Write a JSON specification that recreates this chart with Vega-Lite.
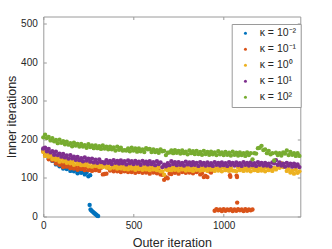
{
"$schema":"https://vega.github.io/schema/vega-lite/v6.json",
"width":257,"height":200,
"autosize":"none",
"padding":{"left":43.3,"top":16.5,"right":31.7,"bottom":32.5},
"background":"white",
"config":{"view":{"stroke":null},"font":"Liberation Sans",
"axis":{"grid":false,"domainColor":"#9a9a9a","domainWidth":1,"tickColor":"#9a9a9a","tickSize":-3,"labelFlush":false,"labelFont":"Liberation Sans","labelFontSize":10,"labelColor":"#262626","titleFont":"Liberation Sans","titleFontSize":12.5,"titleFontWeight":"normal","titleColor":"#262626"}},
"data":{"values":[
{"x":0,"a":174,"b":169,"c":167,"d":176,"e":205},
{"x":10,"a":162,"b":158,"c":157,"d":178,"e":212},
{"x":20,"a":162,"b":159,"c":164,"d":169,"e":203},
{"x":30,"a":150,"b":148,"c":155,"d":175,"e":206},
{"x":40,"a":155,"b":155,"c":158,"d":166,"e":197},
{"x":50,"a":144,"b":145,"c":149,"d":169,"e":203},
{"x":60,"a":145,"b":147,"c":155,"d":160,"e":195},
{"x":70,"a":135,"b":137,"c":147,"d":168,"e":198},
{"x":80,"a":140,"b":143,"c":150,"d":159,"e":190},
{"x":90,"a":130,"b":134,"c":142,"d":163,"e":199},
{"x":100,"a":133,"b":137,"c":151,"d":155,"e":191},
{"x":110,"a":124,"b":128,"c":143,"d":162,"e":195},
{"x":120,"a":132,"b":137,"c":147,"d":153,"e":187},
{"x":130,"a":123,"b":129,"c":139,"d":158,"e":194},
{"x":140,"a":127,"b":133,"c":146,"d":150,"e":186},
{"x":150,"a":118,"b":125,"c":138,"d":159,"e":190},
{"x":160,"a":125,"b":132,"c":142,"d":151,"e":182},
{"x":170,"a":117,"b":124,"c":134,"d":155,"e":191},
{"x":180,"a":120,"b":128,"c":144,"d":147,"e":184},
{"x":190,"a":112,"b":121,"c":136,"d":154,"e":188},
{"x":200,"a":121,"b":130,"c":141,"d":146,"e":181},
{"x":210,"a":113,"b":123,"c":133,"d":151,"e":188},
{"x":220,"a":117,"b":127,"c":140,"d":143,"e":181},
{"x":230,"a":109,"b":120,"c":133,"d":153,"e":185},
{"x":240,"a":114,"b":128,"c":137,"d":145,"e":178},
{"x":250,"a":104,"b":120,"c":130,"d":150,"e":187},
{"x":260,"a":107,"b":125,"c":139,"d":142,"e":180},
{"x":270,"b":118,"c":129,"d":150,"e":184},
{"x":280,"b":127,"c":138,"d":140,"e":177},
{"x":290,"b":120,"c":131,"d":147,"e":184},
{"x":300,"b":125,"c":135,"d":139,"e":177},
{"x":310,"b":118,"c":128,"d":148,"e":182},
{"x":320,"b":126,"c":135,"d":141,"e":175},
{"x":330,"b":109,"c":128,"d":141,"e":184},
{"x":340,"b":110,"c":131,"d":138,"e":176},
{"x":350,"b":111,"c":127,"d":146,"e":181},
{"x":360,"b":126,"c":132,"d":139,"e":174},
{"x":370,"b":119,"c":124,"d":144,"e":181},
{"x":380,"b":124,"c":134,"d":136,"e":174},
{"x":390,"b":117,"c":127,"d":146,"e":179},
{"x":400,"b":124,"c":131,"d":139,"e":171},
{"x":410,"b":117,"c":124,"d":144,"e":181},
{"x":420,"b":122,"c":132,"d":137,"e":173},
{"x":430,"b":115,"c":125,"d":145,"e":178},
{"x":440,"b":124,"c":131,"d":138,"e":171},
{"x":450,"b":117,"c":123,"d":143,"e":172},
{"x":460,"b":122,"c":129,"d":135,"e":171},
{"x":470,"b":115,"c":122,"d":145,"e":176},
{"x":480,"b":122,"c":131,"d":138,"e":169},
{"x":490,"b":115,"c":124,"d":143,"e":178},
{"x":500,"b":120,"c":129,"d":136,"e":171},
{"x":510,"b":113,"c":121,"d":144,"e":176},
{"x":520,"b":123,"c":130,"d":137,"e":168},
{"x":530,"b":115,"c":123,"d":142,"e":176},
{"x":540,"b":120,"c":128,"d":134,"e":169},
{"x":550,"b":113,"c":121,"d":144,"e":174},
{"x":560,"b":121,"c":129,"d":137,"e":167},
{"x":570,"b":114,"c":122,"d":142,"e":177},
{"x":580,"b":119,"c":127,"d":135,"e":174},
{"x":590,"b":111,"c":120,"d":143,"e":175},
{"x":600,"b":121,"c":129,"d":136,"e":167},
{"x":610,"b":114,"c":122,"d":141,"e":174},
{"x":620,"b":119,"c":127,"d":133,"e":167},
{"x":630,"b":112,"c":120,"d":143,"e":172},
{"x":640,"b":120,"c":128,"d":136,"e":165},
{"x":650,"b":109,"c":117,"d":140,"e":174},
{"x":660,"b":108,"c":117,"d":128,"e":169},
{"x":670,"b":95,"c":108,"d":134,"e":170},
{"x":680,"b":102,"c":122,"d":130,"e":159},
{"x":690,"b":99,"c":120,"d":138,"e":165},
{"x":700,"b":111,"c":127,"d":133,"e":166},
{"x":710,"b":110,"c":120,"d":143,"e":171},
{"x":720,"b":120,"c":128,"d":136,"e":164},
{"x":730,"b":113,"c":121,"d":141,"e":172},
{"x":740,"b":118,"c":126,"d":133,"e":165},
{"x":750,"b":111,"c":119,"d":141,"e":170},
{"x":760,"b":122,"c":129,"d":134,"e":163},
{"x":770,"b":115,"c":122,"d":139,"e":171},
{"x":780,"b":120,"c":127,"d":132,"e":164},
{"x":790,"b":113,"c":119,"d":142,"e":168},
{"x":800,"b":121,"c":127,"d":135,"e":161},
{"x":810,"b":114,"c":120,"d":140,"e":171},
{"x":820,"b":119,"c":125,"d":133,"e":164},
{"x":830,"b":112,"c":118,"d":141,"e":169},
{"x":840,"b":122,"c":128,"d":134,"e":162},
{"x":850,"b":115,"c":121,"d":139,"e":170},
{"x":860,"b":119,"c":126,"d":131,"e":162},
{"x":870,"b":109,"c":119,"d":141,"e":167},
{"x":880,"b":112,"c":127,"d":134,"e":160},
{"x":890,"b":102,"c":120,"d":139,"e":170},
{"x":900,"b":105,"c":125,"d":132,"e":162},
{"x":910,"b":102,"c":118,"d":140,"e":167},
{"x":920,"b":117,"c":128,"d":133,"e":160},
{"x":930,"b":114,"c":121,"d":138,"e":168},
{"x":940,"c":126,"d":131,"e":161},
{"x":950,"b":15,"c":118,"d":141,"e":166},
{"x":960,"b":19,"c":126,"d":134,"e":159},
{"x":970,"b":16,"c":119,"d":139,"e":169},
{"x":980,"b":18,"c":124,"d":132,"e":161},
{"x":990,"b":14,"c":117,"d":140,"e":166},
{"x":1000,"b":19,"c":127,"d":133,"e":159},
{"x":1010,"b":15,"c":120,"d":138,"e":167},
{"x":1020,"b":18,"c":125,"d":131,"e":160},
{"x":1030,"b":16,"c":118,"d":141,"e":165},
{"x":1040,"b":19,"c":126,"d":134,"e":158},
{"x":1050,"b":14,"c":119,"d":139,"e":168},
{"x":1060,"b":18,"c":119,"d":132,"e":160},
{"x":1070,"b":15,"c":117,"d":140,"e":165},
{"x":1080,"b":19,"c":127,"d":133,"e":158},
{"x":1090,"b":16,"c":120,"d":138,"e":166},
{"x":1100,"b":18,"c":125,"d":131,"e":159},
{"x":1110,"b":14,"c":118,"d":141,"e":164},
{"x":1120,"b":19,"c":126,"d":134,"e":157},
{"x":1130,"b":15,"c":119,"d":139,"e":166},
{"x":1140,"b":18,"c":124,"d":132,"e":159},
{"x":1150,"b":16,"c":117,"d":140,"e":164},
{"x":1160,"b":18,"c":127,"d":133,"e":148},
{"x":1170,"c":120,"d":138,"e":164},
{"x":1180,"c":125,"d":131,"e":163},
{"x":1190,"c":118,"d":141,"e":177},
{"x":1200,"c":126,"d":134,"e":178},
{"x":1210,"c":119,"d":139,"e":183},
{"x":1220,"c":124,"d":132,"e":172},
{"x":1230,"c":117,"d":139,"e":174},
{"x":1240,"c":127,"d":132,"e":164},
{"x":1250,"c":120,"d":137,"e":170},
{"x":1260,"c":125,"d":130,"e":161},
{"x":1270,"c":118,"d":140,"e":164},
{"x":1280,"c":126,"d":138,"e":145},
{"x":1290,"c":122,"d":146,"e":165},
{"x":1300,"c":130,"d":134,"e":159},
{"x":1310,"c":126,"d":140,"e":164},
{"x":1320,"c":138,"d":132,"e":158},
{"x":1330,"c":128,"d":137,"e":166},
{"x":1340,"c":129,"d":129,"e":163},
{"x":1350,"c":118,"d":139,"e":171},
{"x":1360,"c":123,"d":132,"e":159},
{"x":1370,"c":114,"d":137,"e":167},
{"x":1380,"c":119,"d":129,"e":160},
{"x":1390,"c":111,"d":137,"e":164},
{"x":1400,"c":121,"d":130,"e":157},
{"x":1410,"c":113,"d":135,"e":164},
{"x":1420,"c":117,"d":128,"e":157},
{"x":257,"a":30},{"x":262,"a":18},{"x":266,"a":16},{"x":270,"a":14},{"x":275,"a":12},{"x":280,"a":10},{"x":285,"a":8},{"x":290,"a":6},{"x":295,"a":4},{"x":300,"a":2},{"x":304,"a":1},
{"x":1035,"b":107},{"x":1037,"b":103},{"x":1072,"b":106},{"x":1074,"b":102},{"x":1075,"b":36}
]},
"transform":[{"fold":["a","b","c","d","e"],"as":["k","v"]},{"filter":"isValid(datum.v)"}],
"layer":[
{"mark":{"type":"point","filled":true,"size":19,"opacity":1,"strokeWidth":0},
"encoding":{
"x":{"field":"x","type":"quantitative","scale":{"domain":[0,1425],"nice":false,"zero":false},"axis":{"values":[0,500,1000],"format":"d","title":"Outer iteration","labelPadding":7,"titlePadding":6}},
"y":{"field":"v","type":"quantitative","scale":{"domain":[0,518],"nice":false},"axis":{"values":[0,100,200,300,400,500],"format":"d","title":"Inner iterations","labelPadding":9,"titlePadding":2}},
"color":{"field":"k","type":"nominal","scale":{"domain":["a","b","c","d","e"],"range":["#0072BD","#D95319","#EDB120","#7E2F8E","#77AC30"]},
"legend":{"title":null,"orient":"none","legendX":188.4,"legendY":7.5,"fillColor":"white","strokeColor":"#9a9a9a","padding":4,"rowPadding":5,"symbolType":"circle","symbolSize":9,"symbolOffset":4.5,"labelOffset":9,"labelFontSize":10.5,"labelFont":"Liberation Sans","labelColor":"#262626",
"labelExpr":"datum.label=='a'?'κ = 10⁻²':datum.label=='b'?'κ = 10⁻¹':datum.label=='c'?'κ = 10⁰':datum.label=='d'?'κ = 10¹':'κ = 10²'"}},
"order":{"field":"k","type":"ordinal"}}},
{"mark":{"type":"point","opacity":0},
"encoding":{
"x":{"field":"x","type":"quantitative","axis":{"orient":"top","values":[0,500,1000],"labels":false,"title":null}},
"y":{"field":"v","type":"quantitative","axis":{"orient":"right","values":[0,100,200,300,400,500],"labels":false,"title":null}}}}
],
"resolve":{"axis":{"x":"independent","y":"independent"}}
}
